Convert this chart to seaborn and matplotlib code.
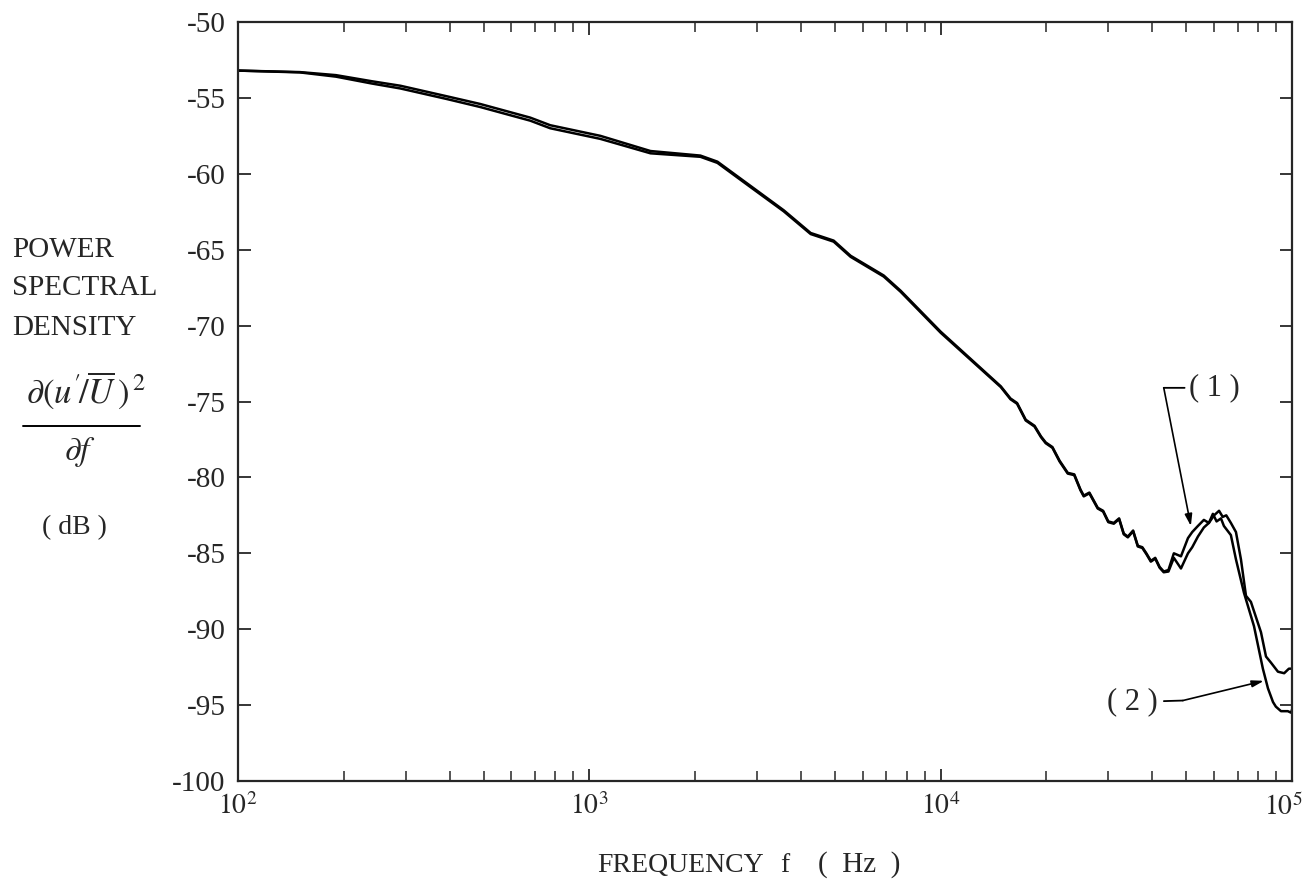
import matplotlib
matplotlib.use("Agg")
import matplotlib.pyplot as plt
import matplotlib.transforms as mtransforms
import seaborn as sns
import pandas as pd
from matplotlib.lines import Line2D

# ---------------- data ----------------
freq_curve1 = [100, 150, 190, 240, 290, 394, 489, 679, 774, 1075, 1493, 2071, 2315,
               2877, 3574, 4266, 4959, 5542, 6886, 7690, 10000, 14830, 15800, 16500,
               17460, 18500, 19300, 19910, 20800, 21800, 23000, 24000, 25000, 25540,
               26500, 27990, 29000, 30000, 31100, 32200, 33200, 34100, 35300, 36400,
               37500, 38500, 39650, 40800, 42000, 43150, 44500, 46100, 48300, 50570,
               52000, 53970, 56120, 58000, 60000, 62000, 63500, 65000, 67000, 69260,
               71560, 73960, 76390, 81600, 84330, 87100, 91200, 95000, 98000, 100000]
psd_curve1 = [-53.2, -53.3, -53.5, -53.9, -54.2, -54.9, -55.4, -56.3, -56.8, -57.5,
              -58.5, -58.8, -59.2, -60.8, -62.4, -63.9, -64.4, -65.4, -66.7, -67.7,
              -70.4, -74.0, -74.8, -75.1, -76.2, -76.6, -77.3, -77.7, -78.0, -78.9,
              -79.7, -79.8, -80.8, -81.2, -81.0, -82.0, -82.2, -82.9, -83.0, -82.7,
              -83.7, -83.9, -83.5, -84.5, -84.6, -85.0, -85.5, -85.3, -85.9, -86.2,
              -86.1, -85.0, -85.2, -84.0, -83.6, -83.2, -82.8, -83.0, -82.5, -82.2,
              -82.6, -82.5, -83.0, -83.6, -85.4, -87.8, -88.2, -90.2, -91.8, -92.2,
              -92.8, -92.9, -92.6, -92.6]

freq_curve2 = [100, 150, 190, 240, 290, 394, 489, 679, 774, 1075, 1493, 2071, 2315,
               2877, 3574, 4266, 4959, 5542, 6886, 7690, 10000, 14830, 15800, 16500,
               17460, 18500, 19300, 19910, 20800, 21800, 23000, 24000, 25000, 25540,
               26500, 27990, 29000, 30000, 31100, 32200, 33200, 34100, 35300, 36400,
               37500, 38500, 39650, 40800, 42000, 43150, 44500, 46100, 48300, 50570,
               52000, 53970, 56120, 58000, 59540, 61000, 62780, 64000, 66990, 69260,
               72990, 77950, 82620, 85430, 88300, 89950, 93040, 97300, 99400, 100000]
psd_curve2 = [-53.2, -53.32, -53.6, -54.05, -54.38, -55.08, -55.6, -56.5, -57.0, -57.7,
              -58.65, -58.88, -59.28, -60.88, -62.47, -63.97, -64.47, -65.47, -66.77, -67.77,
              -70.47, -74.05, -74.85, -75.15, -76.25, -76.65, -77.35, -77.75, -78.05, -78.95,
              -79.75, -79.85, -80.85, -81.25, -81.05, -82.05, -82.25, -82.95, -83.05, -82.75,
              -83.75, -83.95, -83.55, -84.55, -84.65, -85.05, -85.55, -85.35, -85.95, -86.25,
              -86.2, -85.3, -86.0, -85.0, -84.6, -83.9, -83.3, -83.0, -82.4, -82.9,
              -82.7, -83.2, -83.8, -85.4, -87.6, -89.8, -92.6, -93.9, -94.8, -95.1,
              -95.4, -95.4, -95.5, -95.3]

curve_names = ["(1)", "(2)"]
x_ticks = [1e2, 1e3, 1e4, 1e5]
x_ticklabels = [r"$10^{2}$", r"$10^{3}$", r"$10^{4}$", r"$10^{5}$"]
y_ticks = [-100, -95, -90, -85, -80, -75, -70, -65, -60, -55, -50]

df = pd.concat([
    pd.DataFrame({"f": freq_curve1, "psd": psd_curve1, "curve": curve_names[0]}),
    pd.DataFrame({"f": freq_curve2, "psd": psd_curve2, "curve": curve_names[1]}),
])

# ---------------- style ----------------
sns.set_style("ticks")
plt.rcParams["font.family"] = ["Liberation Serif", "DejaVu Serif"]
plt.rcParams["mathtext.fontset"] = "stix"
serif = ["Liberation Serif", "DejaVu Serif"]

fig = plt.figure(figsize=(13.09, 8.81), dpi=100)
W, H = 1309, 881
L, R, T, B = 238, 1292, 22, 781
ax = fig.add_axes([L / W, 1 - B / H, (R - L) / W, (B - T) / H])

sns.lineplot(data=df, x="f", y="psd", hue="curve", palette=["black", "black"],
             sort=False, estimator=None, legend=False, linewidth=1.8, ax=ax)

ax.set_xscale("log")
ax.set_xlim(1e2, 1e5)
ax.set_ylim(-100, -50)
ax.set_xticks(x_ticks)
ax.set_xticklabels(x_ticklabels, fontsize=20)
ax.set_yticks(y_ticks)
ax.set_yticklabels([str(v) for v in y_ticks], fontsize=21)
ax.set_xlabel("")
ax.set_ylabel("")
for s in ax.spines.values():
    s.set_linewidth(1.6)
    s.set_visible(True)
ax.tick_params(axis="both", which="major", direction="in", length=9, width=1.3,
               top=True, right=True)
ax.tick_params(axis="y", which="major", pad=9)
ax.tick_params(axis="x", which="major", pad=9)
ax.tick_params(axis="x", which="minor", direction="in", length=7, width=1.1,
               top=True, bottom=True)
ax.tick_params(axis="y", which="minor", left=False, right=False)

# shift the last x tick label a little to the left so it stays inside the figure
last = ax.get_xticklabels()[-1]
last.set_transform(last.get_transform() +
                   mtransforms.ScaledTranslation(-9 / 100, 0, fig.dpi_scale_trans))

# ---------------- axis titles ----------------
ylab = 1 - 865 / H
fig.text(597 / W, ylab, "FREQUENCY", fontsize=20, ha="left", va="center", family=serif)
fig.text(780 / W, ylab, "f", fontsize=20, ha="left", va="center", family=serif)
fig.text(818 / W, ylab, "(  Hz  )", fontsize=21, ha="left", va="center", family=serif)

fig.text(12 / W, 1 - 250 / H, "POWER", fontsize=21, ha="left", va="center", family=serif)
fig.text(12 / W, 1 - 288 / H, "SPECTRAL", fontsize=21, ha="left", va="center", family=serif)
fig.text(12 / W, 1 - 328 / H, "DENSITY", fontsize=21, ha="left", va="center", family=serif)
fig.text(86 / W, 1 - 390 / H, r"$\partial(u^{\prime}\!/\overline{U}\,)^{\,2}$", fontsize=25,
         ha="center", va="center")
fig.add_artist(Line2D([23 / W, 140 / W], [1 - 426 / H, 1 - 426 / H], color="black",
                      linewidth=1.4, transform=fig.transFigure))
fig.text(80 / W, 1 - 452 / H, r"$\partial f$", fontsize=24, ha="center", va="center")
fig.text(74 / W, 1 - 528 / H, "( dB )", fontsize=20, ha="center", va="center", family=serif)

# ---------------- annotations ----------------
ax.annotate("", xy=(51540, -83.2), xytext=(43150, -74.1),
            arrowprops=dict(arrowstyle="-|>,head_length=0.7,head_width=0.22",
                            color="black", lw=1.2, shrinkA=0, shrinkB=0))
ax.annotate("( 1 )", xy=(43150, -74.1), xytext=(51000, -74.1),
            fontsize=22, va="center", ha="left", family=serif,
            arrowprops=dict(arrowstyle="-", color="black", lw=1.3, shrinkA=1, shrinkB=0))
ax.annotate("( 2 )", xy=(48900, -94.7), xytext=(41500, -94.8),
            fontsize=22, va="center", ha="right", family=serif,
            arrowprops=dict(arrowstyle="-", color="black", lw=1.3, shrinkA=2, shrinkB=0))
ax.annotate("", xy=(83200, -93.4), xytext=(48900, -94.7),
            arrowprops=dict(arrowstyle="-|>,head_length=0.7,head_width=0.2",
                            color="black", lw=1.2, shrinkA=0, shrinkB=0))

fig.savefig("out.png", dpi=100)
